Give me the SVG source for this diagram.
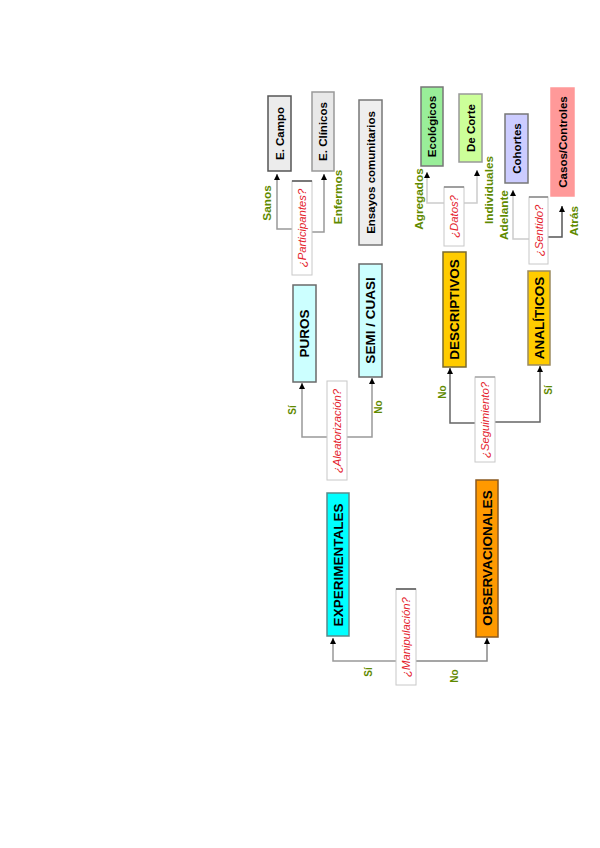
<svg xmlns="http://www.w3.org/2000/svg" width="600" height="848" viewBox="0 0 600 848">
<defs>
<marker id="ah" markerWidth="6" markerHeight="6" refX="6" refY="3" orient="auto" markerUnits="userSpaceOnUse"><path d="M0,0 L6,3 L0,6 z" fill="#000"/></marker>
<style>
.box{stroke:#6a6a6a;stroke-width:1.5}
.q{fill:#fff;stroke:#c8c8c8;stroke-width:1}
.qt{stroke:#555;stroke-width:1.5}
.big{font-family:"Liberation Sans",Arial,sans-serif;font-weight:bold;font-size:13.5px;fill:#000}
.med{font-family:"Liberation Sans",Arial,sans-serif;font-weight:bold;font-size:11.5px;fill:#000}
.qx{font-family:"Liberation Sans",Arial,sans-serif;font-style:italic;font-size:11.3px;fill:#e4202a}
.lb{font-family:"Liberation Sans",Arial,sans-serif;font-weight:bold;font-size:11.8px;fill:#5f8a00}
.sn{font-family:"Liberation Sans",Arial,sans-serif;font-weight:bold;font-size:10px;fill:#5f8a00}
.c{fill:none;stroke:#999;stroke-width:1.5}
</style>
</defs>
<rect width="600" height="848" fill="#fff"/>
<g id="connectors">
<path class="c" d="M396,661 H333 V638" marker-end="url(#ah)"/>
<path class="c" d="M416,661 H487 V638" marker-end="url(#ah)" style="stroke:#888"/>
<path class="c" d="M327,437 H302 V383" marker-end="url(#ah)"/>
<path class="c" d="M347,437 H372 V378" marker-end="url(#ah)"/>
<path class="c" d="M475,423 H450 V368" marker-end="url(#ah)" style="stroke:#666"/>
<path class="c" d="M495,422 H540 V366" marker-end="url(#ah)" style="stroke:#666"/>
<path class="c" d="M292,229 H277 V174" marker-end="url(#ah)"/>
<path class="c" d="M312,232 H324 V174" marker-end="url(#ah)"/>
<path class="c" d="M444,203 H427 V172" marker-end="url(#ah)" style="stroke:#ccc"/>
<path class="c" d="M464,203 H477 V170" marker-end="url(#ah)" style="stroke:#ccc"/>
<path class="c" d="M529,239 H513 V190" marker-end="url(#ah)" style="stroke:#ccc"/>
<path class="c" d="M548,237 H562 V206" marker-end="url(#ah)" style="stroke:#555"/>
<text class="sn" transform="translate(368,672) rotate(-90)" text-anchor="middle" dominant-baseline="central">Sí</text>
<text class="sn" transform="translate(454,676) rotate(-90)" text-anchor="middle" dominant-baseline="central">No</text>
<text class="sn" transform="translate(292,410) rotate(-90)" text-anchor="middle" dominant-baseline="central">Sí</text>
<text class="sn" transform="translate(378,407) rotate(-90)" text-anchor="middle" dominant-baseline="central">No</text>
<text class="sn" transform="translate(442,392) rotate(-90)" text-anchor="middle" dominant-baseline="central">No</text>
<text class="sn" transform="translate(548,390) rotate(-90)" text-anchor="middle" dominant-baseline="central">Sí</text>
<text class="lb" transform="translate(267,203) rotate(-90)" text-anchor="middle" dominant-baseline="central">Sanos</text>
<text class="lb" transform="translate(338,197) rotate(-90)" text-anchor="middle" dominant-baseline="central">Enfermos</text>
<text class="lb" transform="translate(419,199) rotate(-90)" text-anchor="middle" dominant-baseline="central">Agregados</text>
<text class="lb" transform="translate(489,190) rotate(-90)" text-anchor="middle" dominant-baseline="central">Individuales</text>
<text class="lb" transform="translate(504,215) rotate(-90)" text-anchor="middle" dominant-baseline="central">Adelante</text>
<text class="lb" transform="translate(574,221) rotate(-90)" text-anchor="middle" dominant-baseline="central">Atrás</text>
</g>
<g id="manipulacion">
<rect class="q" x="396" y="589" width="20" height="96"/><line class="qt" x1="396" y1="589" x2="416" y2="589"/>
<text class="qx" transform="translate(406,637) rotate(-90)" text-anchor="middle" dominant-baseline="central">¿Manipulación?</text>
</g>
<g id="experimentales">
<rect class="box" x="327" y="493" width="22" height="143" fill="#00ffff" style="stroke:#5a8a8a"/>
<text class="big" transform="translate(338,565) rotate(-90)" text-anchor="middle" dominant-baseline="central">EXPERIMENTALES</text>
</g>
<g id="observacionales">
<rect class="box" x="476" y="480" width="22" height="157" fill="#ff9900" style="stroke:#8a5a20"/>
<text class="big" transform="translate(487,558) rotate(-90)" text-anchor="middle" dominant-baseline="central">OBSERVACIONALES</text>
</g>
<g id="aleatorizacion">
<rect class="q" x="327" y="381" width="20" height="99"/>
<text class="qx" transform="translate(337,431) rotate(-90)" text-anchor="middle" dominant-baseline="central">¿Aleatorización?</text>
</g>
<g id="seguimiento">
<rect class="q" x="475" y="377" width="20" height="85"/><line class="qt" x1="475" y1="377" x2="495" y2="377" style="stroke:#aaa"/>
<text class="qx" transform="translate(485,420) rotate(-90)" text-anchor="middle" dominant-baseline="central">¿Seguimiento?</text>
</g>
<g id="puros">
<rect class="box" x="293" y="285" width="23" height="97" fill="#ccffff"/>
<text class="big" transform="translate(304.5,333.5) rotate(-90)" text-anchor="middle" dominant-baseline="central">PUROS</text>
</g>
<g id="semicuasi">
<rect class="box" x="359" y="264" width="23" height="113" fill="#ccffff"/>
<text class="big" transform="translate(370.5,320.5) rotate(-90)" text-anchor="middle" dominant-baseline="central">SEMI / CUASI</text>
</g>
<g id="descriptivos">
<rect class="box" x="443" y="252" width="23" height="115" fill="#ffcc00" style="stroke:#7a6a30"/>
<text class="big" transform="translate(454.5,309.5) rotate(-90)" text-anchor="middle" dominant-baseline="central">DESCRIPTIVOS</text>
</g>
<g id="analiticos">
<rect class="box" x="528" y="271" width="22" height="94" fill="#ffcc00" style="stroke:#9a8a60"/>
<text class="big" transform="translate(539,318) rotate(-90)" text-anchor="middle" dominant-baseline="central">ANALÍTICOS</text>
</g>
<g id="participantes">
<rect class="q" x="292" y="181" width="20" height="94"/><line class="qt" x1="292" y1="181" x2="312" y2="181"/>
<text class="qx" transform="translate(302,228) rotate(-90)" text-anchor="middle" dominant-baseline="central">¿Participantes?</text>
</g>
<g id="datos">
<rect class="q" x="444" y="187" width="20" height="59"/><line class="qt" x1="444" y1="187" x2="464" y2="187" style="stroke:#888"/>
<text class="qx" transform="translate(454,216.5) rotate(-90)" text-anchor="middle" dominant-baseline="central">¿Datos?</text>
</g>
<g id="sentido">
<rect class="q" x="529" y="197" width="19" height="67"/><line class="qt" x1="529" y1="197" x2="548" y2="197" style="stroke:#888"/>
<text class="qx" transform="translate(538.5,230.5) rotate(-90)" text-anchor="middle" dominant-baseline="central">¿Sentido?</text>
</g>
<g id="ecampo">
<rect class="box" x="268" y="96" width="23" height="75" fill="#ececec" style="stroke:#555"/>
<text class="med" transform="translate(279.5,133.5) rotate(-90)" text-anchor="middle" dominant-baseline="central">E. Campo</text>
</g>
<g id="eclinicos">
<rect class="box" x="312" y="92" width="22" height="79" fill="#e8e8e8" style="stroke:#999"/>
<text class="med" transform="translate(323,131.5) rotate(-90)" text-anchor="middle" dominant-baseline="central">E. Clínicos</text>
</g>
<g id="ensayos">
<rect class="box" x="359" y="100" width="23" height="145" fill="#eeeeee" style="stroke:#777"/>
<text class="med" transform="translate(370.5,172.5) rotate(-90)" text-anchor="middle" dominant-baseline="central">Ensayos comunitarios</text>
</g>
<g id="ecologicos">
<rect class="box" x="421" y="87" width="22" height="79" fill="#99ee99" style="stroke:#777"/>
<text class="med" transform="translate(432,126.5) rotate(-90)" text-anchor="middle" dominant-baseline="central">Ecológicos</text>
</g>
<g id="decorte">
<rect class="box" x="459" y="94" width="23" height="68" fill="#ccff99" style="stroke:#999"/>
<text class="med" transform="translate(470.5,128) rotate(-90)" text-anchor="middle" dominant-baseline="central">De Corte</text>
</g>
<g id="cohortes">
<rect class="box" x="505" y="114" width="23" height="69" fill="#ccccff" style="stroke:#777"/>
<text class="med" transform="translate(516.5,148.5) rotate(-90)" text-anchor="middle" dominant-baseline="central">Cohortes</text>
</g>
<g id="casoscontroles">
<rect class="box" x="551" y="88" width="23" height="108" fill="#ff9999" style="stroke:#ff9999"/>
<text class="med" transform="translate(562.5,142) rotate(-90)" text-anchor="middle" dominant-baseline="central">Casos/Controles</text>
</g>
</svg>
